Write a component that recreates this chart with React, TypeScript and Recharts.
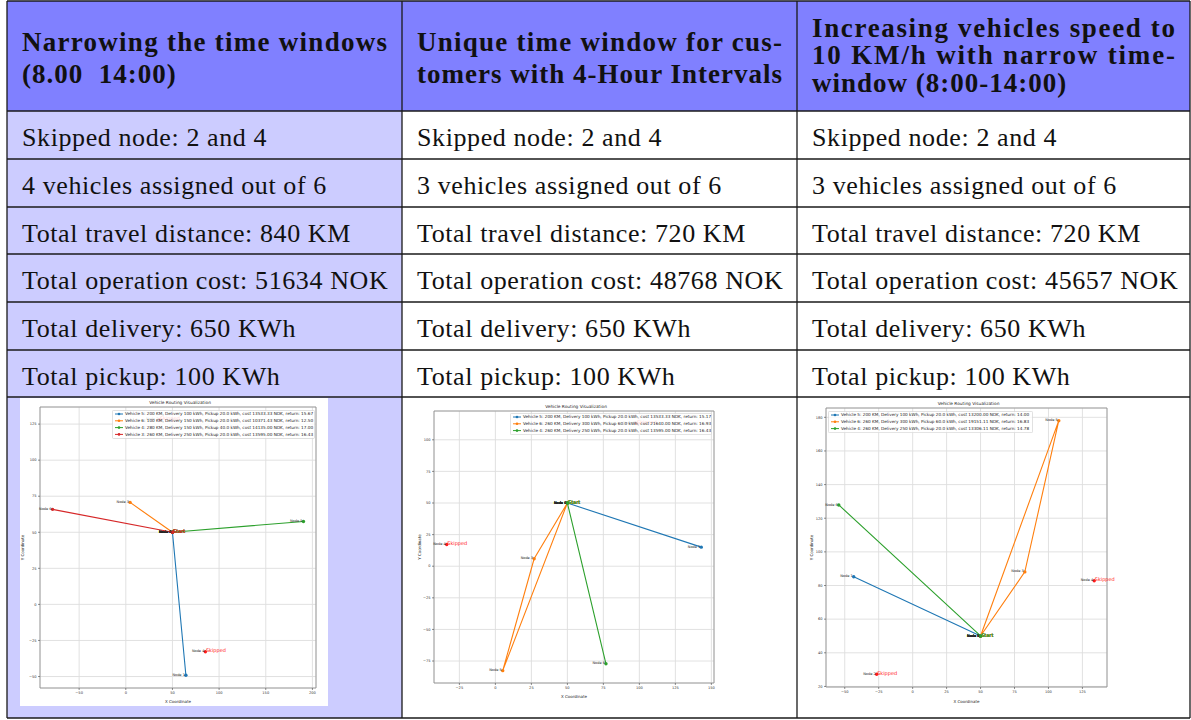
import React from "react";
import {
  ScatterChart,
  Scatter,
  XAxis,
  YAxis,
  CartesianGrid,
  ReferenceArea,
  Legend,
} from "recharts";

const SERIF = "'Liberation Serif', 'Times New Roman', serif";
const SANS = "'DejaVu Sans', 'Liberation Sans', sans-serif";

// ---------- table text ----------
const headerNarrow = ["Narrowing the time windows", "(8.00  14:00)"];
const headerUnique = ["Unique time window for cus-", "tomers with 4-Hour Intervals"];
const headerSpeed = ["Increasing vehicles speed to", "10 KM/h with narrow time-", "window (8:00-14:00)"];

const skippedRow = ["Skipped node: 2 and 4", "Skipped node: 2 and 4", "Skipped node: 2 and 4"];
const vehiclesRow = ["4 vehicles assigned out of 6", "3 vehicles assigned out of 6", "3 vehicles assigned out of 6"];
const distanceRow = ["Total travel distance: 840 KM", "Total travel distance: 720 KM", "Total travel distance: 720 KM"];
const costRow = ["Total operation cost: 51634 NOK", "Total operation cost: 48768 NOK", "Total operation cost: 45657 NOK"];
const deliveryRow = ["Total delivery: 650 KWh", "Total delivery: 650 KWh", "Total delivery: 650 KWh"];
const pickupRow = ["Total pickup: 100 KWh", "Total pickup: 100 KWh", "Total pickup: 100 KWh"];

// ---------- chart data ----------
const BLUE = "#1f77b4";
const ORANGE = "#ff7f0e";
const GREEN = "#2ca02c";
const RED = "#d62728";
const SKIP_RED = "#ff1a1a";

type Pt = { x: number; y: number; tag: number };
const depot: Pt = { x: 50, y: 50, tag: 0 };

// chart 1: narrowing the time windows
const narrowV5: Pt[] = [depot, { x: 64.4, y: -49.1, tag: 1 }, depot];
const narrowV6: Pt[] = [depot, { x: 4.6, y: 70.7, tag: 3 }, depot];
const narrowV4: Pt[] = [depot, { x: 190.4, y: 57.5, tag: 5 }, depot];
const narrowV3: Pt[] = [depot, { x: -78.5, y: 65.9, tag: 6 }, depot];
const narrowSkipped: Pt[] = [{ x: 85.3, y: -32.8, tag: 4 }, { x: 36, y: 128, tag: 2 }];
const narrowLegend = [
  "Vehicle 5: 200 KM, Delivery 100 kWh, Pickup 20.0 kWh, cost 13533.33 NOK, return: 15.67",
  "Vehicle 6: 100 KM, Delivery 150 kWh, Pickup 20.0 kWh, cost 10371.43 NOK, return: 12.50",
  "Vehicle 4: 280 KM, Delivery 150 kWh, Pickup 40.0 kWh, cost 14135.00 NOK, return: 17.00",
  "Vehicle 3: 260 KM, Delivery 250 kWh, Pickup 20.0 kWh, cost 13595.00 NOK, return: 16.43",
];
const narrowXTicks = [-50, 0, 50, 100, 150, 200];
const narrowYTicks = [-50, -25, 0, 25, 50, 75, 100, 125];

// chart 2: unique 4-hour windows
const uniqueV5: Pt[] = [depot, { x: 143, y: 15.1, tag: 1 }, depot];
const uniqueV6: Pt[] = [depot, { x: 26.9, y: 5.9, tag: 3 }, { x: 5.1, y: -82.6, tag: 5 }, depot];
const uniqueV4: Pt[] = [depot, { x: 76.8, y: -77.2, tag: 6 }, depot];
const uniqueSkipped: Pt[] = [{ x: -33.8, y: 17.2, tag: 4 }, { x: 98, y: 113, tag: 2 }];
const uniqueLegend = [
  "Vehicle 5: 200 KM, Delivery 100 kWh, Pickup 20.0 kWh, cost 13533.33 NOK, return: 15.17",
  "Vehicle 6: 260 KM, Delivery 300 kWh, Pickup 60.0 kWh, cost 21640.00 NOK, return: 16.93",
  "Vehicle 4: 260 KM, Delivery 250 kWh, Pickup 20.0 kWh, cost 13595.00 NOK, return: 16.43",
];
const uniqueXTicks = [-25, 0, 25, 50, 75, 100, 125, 150];
const uniqueYTicks = [-75, -50, -25, 0, 25, 50, 75, 100];

// chart 3: faster vehicles
const speedV5: Pt[] = [depot, { x: -43.4, y: 85.2, tag: 1 }, depot];
const speedV6: Pt[] = [depot, { x: 107.6, y: 178, tag: 5 }, { x: 82.6, y: 88.1, tag: 3 }, depot];
const speedV4: Pt[] = [depot, { x: -54.4, y: 127.9, tag: 6 }, depot];
const speedSkipped: Pt[] = [{ x: 133.7, y: 82.8, tag: 4 }, { x: -26.5, y: 27.2, tag: 2 }];
const speedLegend = [
  "Vehicle 5: 200 KM, Delivery 100 kWh, Pickup 20.0 kWh, cost 13200.00 NOK, return: 14.00",
  "Vehicle 6: 260 KM, Delivery 300 kWh, Pickup 60.0 kWh, cost 19151.11 NOK, return: 16.83",
  "Vehicle 4: 260 KM, Delivery 250 kWh, Pickup 20.0 kWh, cost 13306.11 NOK, return: 14.78",
];
const speedXTicks = [-50, -25, 0, 25, 50, 75, 100, 125];
const speedYTicks = [20, 40, 60, 80, 100, 120, 140, 160, 180];

// ---------- helpers ----------
const padDomain = (vals: number[]): [number, number] => {
  const lo = Math.min(...vals);
  const hi = Math.max(...vals);
  const pad = (hi - lo) * 0.05;
  return [lo - pad, hi + pad];
};

const minusFmt = (v: number) => (v < 0 ? "\u2212" + Math.abs(v) : String(v));

const routeShape = (color: string) => (props: any) => {
  const { cx, cy } = props;
  if (cx == null || cy == null) return <g />;
  const tag = props.payload?.tag ?? props.tag;
  return (
    <g>
      <circle cx={cx} cy={cy} r={1.7} fill={color} />
      <text x={cx - 1} y={cy + 0.6} textAnchor="end" fontSize={3.5} fill="#222" fontFamily={SANS}>
        {`Node ${tag}`}
      </text>
      {tag === 0 && (
        <text x={cx + 0.6} y={cy + 0.8} fontSize={5} fill={color} fontFamily={SANS}>
          Start
        </text>
      )}
    </g>
  );
};

const skippedShape = (props: any) => {
  const { cx, cy } = props;
  if (cx == null || cy == null) return <g />;
  const tag = props.payload?.tag ?? props.tag;
  return (
    <g>
      <circle cx={cx} cy={cy} r={1.7} fill={SKIP_RED} />
      <text x={cx - 1} y={cy + 0.6} textAnchor="end" fontSize={3.5} fill="#222" fontFamily={SANS}>
        {`Node ${tag}`}
      </text>
      <text x={cx + 0.5} y={cy + 0.6} fontSize={5} fill={SKIP_RED} fontFamily={SANS}>
        Skipped
      </text>
    </g>
  );
};

type Route = { name: string; color: string; data: Pt[] };
type Layout = {
  left: number;
  top: number;
  width: number;
  height: number;
  margin: { top: number; right: number; bottom: number; left: number };
  yAxisWidth: number;
  xAxisHeight: number;
  yLabelX: number;
  legend: { left: number; top: number; width: number };
};

const RoutingChart = ({
  routes,
  skipped,
  xTicks,
  yTicks,
  layout,
}: {
  routes: Route[];
  skipped: Pt[];
  xTicks: number[];
  yTicks: number[];
  layout: Layout;
}) => {
  const all = [...routes.flatMap((r) => r.data), ...skipped];
  const xDomain = padDomain(all.map((p) => p.x));
  const yDomain = padDomain(all.map((p) => p.y));
  const plotLeft = layout.margin.left + layout.yAxisWidth;
  const plotWidth = layout.width - plotLeft - layout.margin.right;
  const legendH = 4 + (routes.length - 1) * 6.8 + 4.5;
  const tickStyle = { fontSize: 3.6, fill: "#333", fontFamily: SANS };

  // matplotlib-style legend box, kept in the order the routes were plotted
  const legendContent = () => {
    const lw = layout.legend.width;
    return (
      <svg width={lw} height={legendH} style={{ display: "block" }}>
        <rect
          x={0.4}
          y={0.4}
          width={lw - 0.8}
          height={legendH - 0.8}
          rx={1.2}
          fill="#fff"
          fillOpacity={0.8}
          stroke="#d0d0d0"
          strokeWidth={0.7}
        />
        {routes.map((r, i) => {
          const cy = 4 + i * 6.8;
          return (
            <g key={i}>
              <line x1={3} x2={11} y1={cy} y2={cy} stroke={r.color} strokeWidth={1} />
              <circle cx={7} cy={cy} r={1.3} fill={r.color} />
              <text x={13} y={cy + 1.4} fontSize={4.2} fill="#222" fontFamily={SANS}>
                {r.name}
              </text>
            </g>
          );
        })}
      </svg>
    );
  };

  return (
    <div
      style={{
        position: "absolute",
        left: layout.left,
        top: layout.top,
        width: layout.width,
        height: layout.height,
        background: "#fff",
      }}
    >
      <ScatterChart width={layout.width} height={layout.height} margin={layout.margin}>
        <CartesianGrid stroke="#dedede" strokeWidth={0.9} />
        <XAxis
          type="number"
          dataKey="x"
          domain={xDomain}
          ticks={xTicks}
          interval={0}
          height={layout.xAxisHeight}
          tickSize={2}
          tickMargin={1}
          axisLine={false}
          tickLine={{ stroke: "#444", strokeWidth: 0.6 }}
          tick={tickStyle}
          tickFormatter={minusFmt}
          label={{
            value: "X Coordinate",
            position: "insideBottom",
            offset: 3.5,
            fontSize: 4,
            fill: "#222",
            fontFamily: SANS,
          }}
        />
        <YAxis
          type="number"
          dataKey="y"
          domain={yDomain}
          ticks={yTicks}
          interval={0}
          width={layout.yAxisWidth}
          tickSize={2}
          tickMargin={1.5}
          axisLine={false}
          tickLine={{ stroke: "#444", strokeWidth: 0.6 }}
          tick={tickStyle}
          tickFormatter={minusFmt}
          label={{
            value: "Y Coordinate",
            angle: -90,
            position: "insideLeft",
            offset: layout.yLabelX,
            fontSize: 4,
            fill: "#222",
            fontFamily: SANS,
            style: { textAnchor: "middle" },
          }}
        />
        <ReferenceArea
          x1={xDomain[0]}
          x2={xDomain[1]}
          y1={yDomain[0]}
          y2={yDomain[1]}
          fill="none"
          stroke="#8a8a8a"
          strokeWidth={0.8}
          ifOverflow="visible"
        />
        <Scatter
          name="skipped"
          data={skipped}
          fill={SKIP_RED}
          legendType="none"
          shape={skippedShape}
          isAnimationActive={false}
        />
        {routes.map((r) => (
          <Scatter
            key={r.name}
            name={r.name}
            data={r.data}
            fill={r.color}
            line={{ stroke: r.color, strokeWidth: 1.1 }}
            lineType="joint"
            shape={routeShape(r.color)}
            isAnimationActive={false}
          />
        ))}
        <Legend
          layout="vertical"
          align="center"
          verticalAlign="middle"
          wrapperStyle={{
            left: layout.legend.left,
            top: layout.legend.top,
            width: layout.legend.width,
            height: legendH,
            lineHeight: 0,
          }}
          content={legendContent}
        />
      </ScatterChart>
      <svg
        width={layout.width}
        height={layout.height}
        style={{ position: "absolute", left: 0, top: 0, pointerEvents: "none" }}
      >
        <text
          x={plotLeft + plotWidth / 2 + 2}
          y={layout.margin.top - 2.6}
          textAnchor="middle"
          fontSize={4.3}
          fill="#222"
          fontFamily={SANS}
        >
          Vehicle Routing Visualization
        </text>
      </svg>
    </div>
  );
};

// ---------- table geometry ----------
const colEdges = [7, 402, 797, 1190];
const rowEdges = [1, 111, 159, 207, 254, 302, 350, 397, 718];
const bodyRows = [skippedRow, vehiclesRow, distanceRow, costRow, deliveryRow, pickupRow];

const headerCells = [
  { lines: headerNarrow, baselines: [50.5, 83], justify: [true, false] },
  { lines: headerUnique, baselines: [50.5, 83], justify: [true, true] },
  { lines: headerSpeed, baselines: [36.5, 64, 92], justify: [true, true, false] },
];

const TableBack = () => (
  <svg width={1191} height={720} style={{ position: "absolute", left: 0, top: 0 }}>
    <rect x={colEdges[0]} y={rowEdges[0]} width={colEdges[3] - colEdges[0]} height={rowEdges[1] - rowEdges[0]} fill="#8080ff" />
    <rect x={colEdges[0]} y={rowEdges[1]} width={colEdges[1] - colEdges[0]} height={rowEdges[8] - rowEdges[1]} fill="#ccccff" />
    {headerCells.map((cell, c) =>
      cell.lines.map((line, i) => {
        const x0 = colEdges[c] + 15;
        const w = colEdges[c + 1] - colEdges[c] - 29;
        return (
          <text
            key={`h${c}-${i}`}
            x={x0}
            y={cell.baselines[i]}
            fontFamily={SERIF}
            fontWeight="bold"
            fontSize={27}
            fill="#111"
            letterSpacing={1}
            style={{ whiteSpace: "pre" }}
            {...(cell.justify[i] ? { textLength: w, lengthAdjust: "spacing" } : {})}
          >
            {line}
          </text>
        );
      })
    )}
    {bodyRows.map((row, r) =>
      row.map((txt, c) => (
        <text
          key={`b${r}-${c}`}
          x={colEdges[c] + 15}
          y={rowEdges[r + 1] + 34.5}
          fontFamily={SERIF}
          fontSize={26}
          fill="#111"
          letterSpacing={0.6}
        >
          {txt}
        </text>
      ))
    )}
  </svg>
);

const TableLines = () => (
  <svg width={1191} height={720} style={{ position: "absolute", left: 0, top: 0, pointerEvents: "none" }}>
    {rowEdges.map((y, i) => (
      <line key={`r${i}`} x1={colEdges[0]} x2={colEdges[3]} y1={y} y2={y} stroke="#1a1a1a" strokeWidth={1.3} />
    ))}
    {colEdges.map((x, i) => (
      <line key={`c${i}`} x1={x} x2={x} y1={rowEdges[0]} y2={rowEdges[8]} stroke="#1a1a1a" strokeWidth={1.3} />
    ))}
  </svg>
);

export default function App() {
  return (
    <div style={{ position: "absolute", left: 0, top: 0, width: 1191, height: 720, background: "#fff" }}>
      <TableBack />
      <RoutingChart
        routes={[
          { name: narrowLegend[0], color: BLUE, data: narrowV5 },
          { name: narrowLegend[1], color: ORANGE, data: narrowV6 },
          { name: narrowLegend[2], color: GREEN, data: narrowV4 },
          { name: narrowLegend[3], color: RED, data: narrowV3 },
        ]}
        skipped={narrowSkipped}
        xTicks={narrowXTicks}
        yTicks={narrowYTicks}
        layout={{
          left: 20,
          top: 398,
          width: 308,
          height: 308,
          margin: { top: 9, right: 12, bottom: 0, left: 0 },
          yAxisWidth: 20,
          xAxisHeight: 18,
          yLabelX: 2.5,
          legend: { left: 92, top: 12, width: 203 },
        }}
      />
      <RoutingChart
        routes={[
          { name: uniqueLegend[0], color: BLUE, data: uniqueV5 },
          { name: uniqueLegend[1], color: ORANGE, data: uniqueV6 },
          { name: uniqueLegend[2], color: GREEN, data: uniqueV4 },
        ]}
        skipped={uniqueSkipped}
        xTicks={uniqueXTicks}
        yTicks={uniqueYTicks}
        layout={{
          left: 410,
          top: 399,
          width: 308,
          height: 302,
          margin: { top: 12, right: 4, bottom: 0, left: 0 },
          yAxisWidth: 24,
          xAxisHeight: 18,
          yLabelX: 10,
          legend: { left: 100, top: 14, width: 202 },
        }}
      />
      <RoutingChart
        routes={[
          { name: speedLegend[0], color: BLUE, data: speedV5 },
          { name: speedLegend[1], color: ORANGE, data: speedV6 },
          { name: speedLegend[2], color: GREEN, data: speedV4 },
        ]}
        skipped={speedSkipped}
        xTicks={speedXTicks}
        yTicks={speedYTicks}
        layout={{
          left: 800,
          top: 398,
          width: 317,
          height: 308,
          margin: { top: 10, right: 10, bottom: 0, left: 0 },
          yAxisWidth: 26,
          xAxisHeight: 19,
          yLabelX: 11.7,
          legend: { left: 28, top: 13, width: 205 },
        }}
      />
      <TableLines />
    </div>
  );
}
